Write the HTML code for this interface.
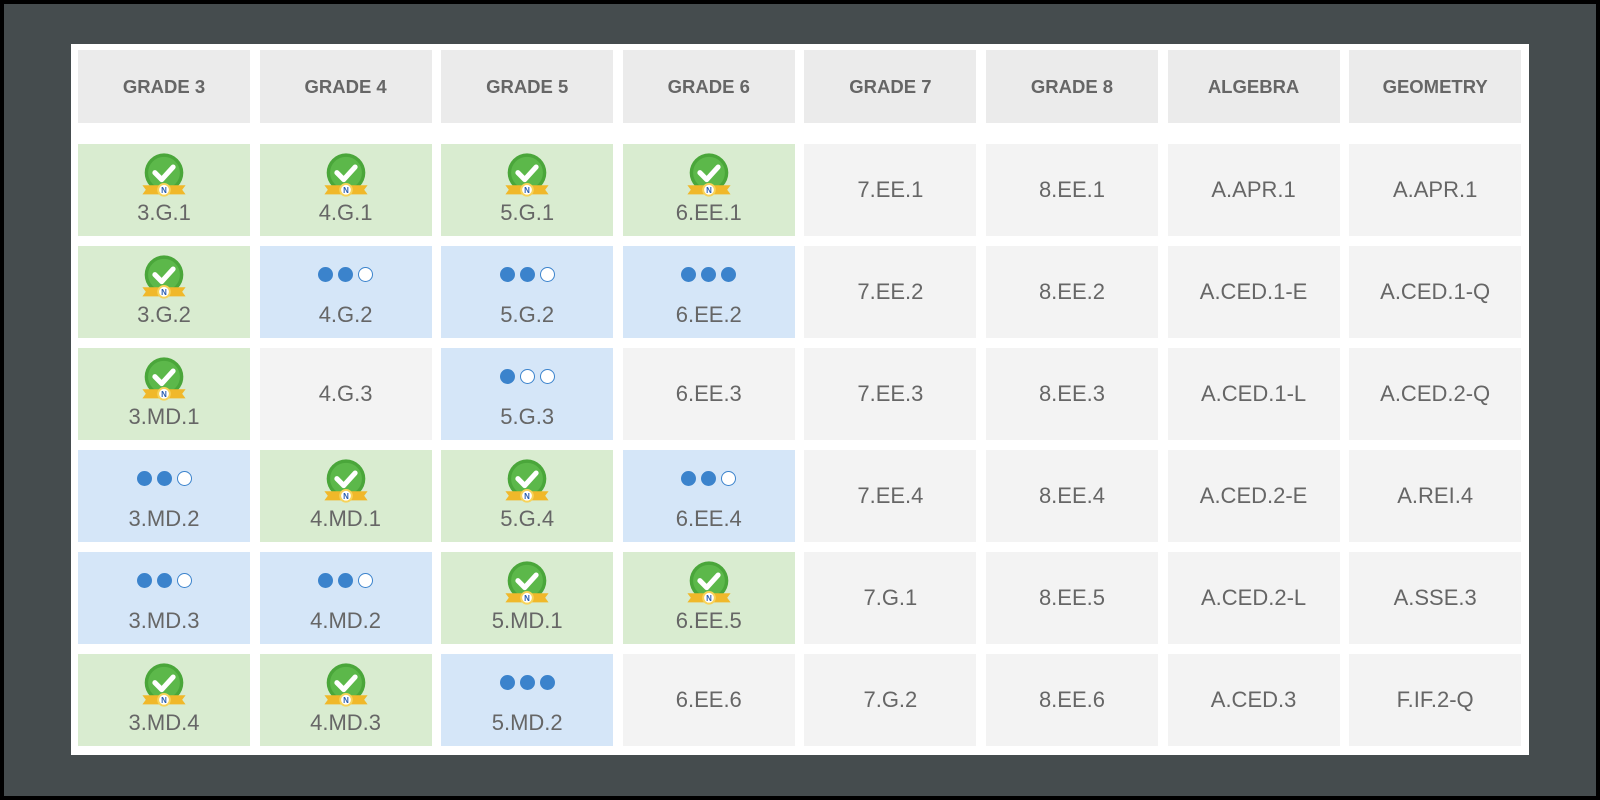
<!DOCTYPE html>
<html><head><meta charset="utf-8"><style>
*{margin:0;padding:0;box-sizing:border-box}
body{width:1600px;height:800px;background:#000;position:relative;overflow:hidden;font-family:"Liberation Sans",Arial,sans-serif}
.bg{position:absolute;left:4px;top:4px;width:1592px;height:792px;background:#454c4e}
.panel{position:absolute;left:71px;top:44px;width:1458px;height:711px;background:#fff}
.grid{position:absolute;left:78px;top:50px;display:grid;grid-template-columns:repeat(8,172px);column-gap:9.6px;grid-template-rows:84px 92px 92px 92px 92px 92px 92px;row-gap:10px}
.grid .h{background:#ebebeb;color:#666;font-weight:bold;font-size:18.5px;display:flex;align-items:center;justify-content:center;height:73px;align-self:start}
.c{position:relative;color:#666;font-size:22px;display:flex;align-items:center;justify-content:center}
.g{background:#d9ecd0}.b{background:#d5e6f8}.p{background:#f3f3f3}
.c .t{position:absolute;left:0;right:0;top:57px;text-align:center;line-height:24px}
.c .ic{position:absolute;left:0;right:0;top:7px;display:flex;justify-content:center}
.dots{position:absolute;left:0;right:0;top:21px;display:flex;justify-content:center;gap:5px}
.d{width:15px;height:15px;border-radius:50%;background:#3b83cc}
.o{width:15px;height:15px;border-radius:50%;border:1.5px solid #3b83cc;background:#fff}
</style></head><body>
<div class="bg"></div><div class="panel"></div>
<svg width="0" height="0" style="position:absolute"><defs>
<g id="bd">
<circle cx="22" cy="19" r="17" fill="#4aa63a"/>
<circle cx="22" cy="19" r="14" fill="#5cb84a"/>
<path d="M14 19 l6 6 l10 -11" stroke="#fff" stroke-width="4.5" fill="none" stroke-linecap="round" stroke-linejoin="round"/>
<path d="M3 30 h38 l-3 4 l3 4 h-38 l3 -4z" fill="#f0b82a"/>
<circle cx="22" cy="34" r="6" fill="#f7d35a"/>
<circle cx="22" cy="34" r="4.3" fill="#fff"/>
<text x="22" y="37" font-size="7" font-weight="bold" text-anchor="middle" fill="#2a5db0" font-family="Liberation Sans">N</text>
</g></defs></svg>
<div class="grid">
<div class="h">GRADE 3</div><div class="h">GRADE 4</div><div class="h">GRADE 5</div><div class="h">GRADE 6</div><div class="h">GRADE 7</div><div class="h">GRADE 8</div><div class="h">ALGEBRA</div><div class="h">GEOMETRY</div>

<div class="c g"><div class="ic"><svg width="50" height="48" viewBox="0 0 44 42"><use href="#bd"/></svg></div><div class="t">3.G.1</div></div>
<div class="c g"><div class="ic"><svg width="50" height="48" viewBox="0 0 44 42"><use href="#bd"/></svg></div><div class="t">4.G.1</div></div>
<div class="c g"><div class="ic"><svg width="50" height="48" viewBox="0 0 44 42"><use href="#bd"/></svg></div><div class="t">5.G.1</div></div>
<div class="c g"><div class="ic"><svg width="50" height="48" viewBox="0 0 44 42"><use href="#bd"/></svg></div><div class="t">6.EE.1</div></div>
<div class="c p">7.EE.1</div><div class="c p">8.EE.1</div><div class="c p">A.APR.1</div><div class="c p">A.APR.1</div>

<div class="c g"><div class="ic"><svg width="50" height="48" viewBox="0 0 44 42"><use href="#bd"/></svg></div><div class="t">3.G.2</div></div>
<div class="c b"><div class="dots"><i class="d"></i><i class="d"></i><i class="o"></i></div><div class="t">4.G.2</div></div>
<div class="c b"><div class="dots"><i class="d"></i><i class="d"></i><i class="o"></i></div><div class="t">5.G.2</div></div>
<div class="c b"><div class="dots"><i class="d"></i><i class="d"></i><i class="d"></i></div><div class="t">6.EE.2</div></div>
<div class="c p">7.EE.2</div><div class="c p">8.EE.2</div><div class="c p">A.CED.1-E</div><div class="c p">A.CED.1-Q</div>

<div class="c g"><div class="ic"><svg width="50" height="48" viewBox="0 0 44 42"><use href="#bd"/></svg></div><div class="t">3.MD.1</div></div>
<div class="c p">4.G.3</div>
<div class="c b"><div class="dots"><i class="d"></i><i class="o"></i><i class="o"></i></div><div class="t">5.G.3</div></div>
<div class="c p">6.EE.3</div>
<div class="c p">7.EE.3</div><div class="c p">8.EE.3</div><div class="c p">A.CED.1-L</div><div class="c p">A.CED.2-Q</div>

<div class="c b"><div class="dots"><i class="d"></i><i class="d"></i><i class="o"></i></div><div class="t">3.MD.2</div></div>
<div class="c g"><div class="ic"><svg width="50" height="48" viewBox="0 0 44 42"><use href="#bd"/></svg></div><div class="t">4.MD.1</div></div>
<div class="c g"><div class="ic"><svg width="50" height="48" viewBox="0 0 44 42"><use href="#bd"/></svg></div><div class="t">5.G.4</div></div>
<div class="c b"><div class="dots"><i class="d"></i><i class="d"></i><i class="o"></i></div><div class="t">6.EE.4</div></div>
<div class="c p">7.EE.4</div><div class="c p">8.EE.4</div><div class="c p">A.CED.2-E</div><div class="c p">A.REI.4</div>

<div class="c b"><div class="dots"><i class="d"></i><i class="d"></i><i class="o"></i></div><div class="t">3.MD.3</div></div>
<div class="c b"><div class="dots"><i class="d"></i><i class="d"></i><i class="o"></i></div><div class="t">4.MD.2</div></div>
<div class="c g"><div class="ic"><svg width="50" height="48" viewBox="0 0 44 42"><use href="#bd"/></svg></div><div class="t">5.MD.1</div></div>
<div class="c g"><div class="ic"><svg width="50" height="48" viewBox="0 0 44 42"><use href="#bd"/></svg></div><div class="t">6.EE.5</div></div>
<div class="c p">7.G.1</div><div class="c p">8.EE.5</div><div class="c p">A.CED.2-L</div><div class="c p">A.SSE.3</div>

<div class="c g"><div class="ic"><svg width="50" height="48" viewBox="0 0 44 42"><use href="#bd"/></svg></div><div class="t">3.MD.4</div></div>
<div class="c g"><div class="ic"><svg width="50" height="48" viewBox="0 0 44 42"><use href="#bd"/></svg></div><div class="t">4.MD.3</div></div>
<div class="c b"><div class="dots"><i class="d"></i><i class="d"></i><i class="d"></i></div><div class="t">5.MD.2</div></div>
<div class="c p">6.EE.6</div>
<div class="c p">7.G.2</div><div class="c p">8.EE.6</div><div class="c p">A.CED.3</div><div class="c p">F.IF.2-Q</div>
</div>
</body></html>
